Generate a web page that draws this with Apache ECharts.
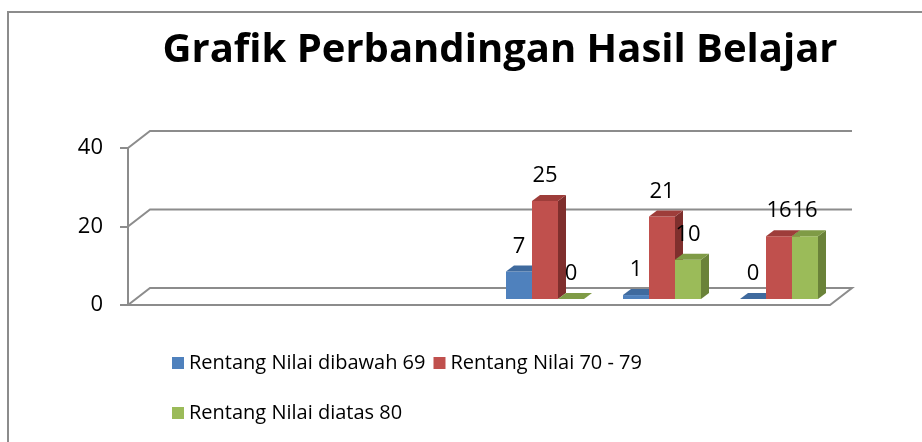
<!DOCTYPE html>
<html>
<head>
<meta charset="utf-8">
<script src="https://cdn.jsdelivr.net/npm/echarts@6/dist/echarts.min.js"></script>
<style>
  html, body { margin: 0; padding: 0; background: #fff; }
  #chart { width: 922px; height: 442px; }
</style>
</head>
<body>
<div id="chart"></div>
<script>
// data
var categories = ['1', '2', '3', '4', '5', '6'];
var seriesNames = ['Rentang Nilai dibawah 69', 'Rentang Nilai 70 - 79', 'Rentang Nilai diatas 80'];
var below69 = [null, null, null, 7, 1, 0];
var range70to79 = [null, null, null, 25, 21, 16];
var above80 = [null, null, null, 0, 10, 16];
var yTicks = [0, 20, 40];

var values = [below69, range70to79, above80];
var palette = [
  { front: '#4F81BD', top: '#3F6A9E', side: '#375C8A' },
  { front: '#C0504D', top: '#9E3D3A', side: '#7F2F2D' },
  { front: '#9BBB59', top: '#7F9B46', side: '#6A8239' }
];
var FONT = '"Open Sans", "Liberation Sans", sans-serif';
var WALL_DX = 22, WALL_DY = 17;   // depth of back wall
var BAR_DX = 8, BAR_DY = 6;       // depth of each bar
var SHIFT_X = 7.5, SHIFT_Y = 6;   // bars sit a bit into the floor
var BAR_W = 26;

function frameItem(params, api) {
  var cs = params.coordSys;
  var x0 = cs.x, x1 = cs.x + cs.width;
  var y = api.coord([0, api.value(1)])[1];
  var line = { stroke: '#8c8c8c', lineWidth: 2, fill: null };
  var pts = [[x0, y], [x0 + WALL_DX, y - WALL_DY], [x1 + WALL_DX, y - WALL_DY]];
  if (api.value(1) === 0) {
    pts.push([x1, y], [x0, y]);
  }
  return { type: 'polyline', shape: { points: pts }, style: line, z2: 0 };
}

function barItem(s) {
  return function (params, api) {
    var c = api.value(0), v = api.value(1);
    var base = api.coord([c, 0]);
    var top = api.coord([c, v]);
    var x = base[0] - BAR_W * 1.5 + s * BAR_W + SHIFT_X;
    var yb = base[1] - SHIFT_Y;
    var yt = top[1] - SHIFT_Y;
    var col = palette[s];
    return {
      type: 'group',
      children: [
        { type: 'rect', shape: { x: x, y: yt, width: BAR_W, height: yb - yt }, style: { fill: col.front } },
        { type: 'polygon', shape: { points: [[x + BAR_W, yt], [x + BAR_W + BAR_DX, yt - BAR_DY], [x + BAR_W + BAR_DX, yb - BAR_DY], [x + BAR_W, yb]] }, style: { fill: col.side } },
        { type: 'polygon', shape: { points: [[x, yt], [x + BAR_W, yt], [x + BAR_W + BAR_DX, yt - BAR_DY], [x + BAR_DX, yt - BAR_DY]] }, style: { fill: col.top } },
        { type: 'text', z2: 10, style: { text: String(v), x: x + BAR_W / 2, y: yt - 25, align: 'center', verticalAlign: 'middle', textAlign: 'center', textVerticalAlign: 'middle', fontSize: 22, fontFamily: FONT, fill: '#000' } }
      ]
    };
  };
}

var series = [{
  type: 'custom',
  name: 'frame',
  renderItem: frameItem,
  data: yTicks.map(function (t) { return [0, t]; }),
  silent: true,
  z: 1
}];
values.forEach(function (arr, s) {
  var data = [];
  arr.forEach(function (v, i) { if (v !== null) data.push([i, v]); });
  series.push({
    type: 'custom',
    name: seriesNames[s],
    renderItem: barItem(s),
    itemStyle: { color: palette[s].front },
    data: data,
    z: 2
  });
});

var chart = echarts.init(document.getElementById('chart'));
chart.setOption({
  animation: false,
  backgroundColor: '#fff',
  title: {
    text: 'Grafik Perbandingan Hasil Belajar',
    left: 495,
    textAlign: 'center',
    top: 26,
    textStyle: { fontFamily: FONT, fontWeight: 'bold', fontSize: 40, color: '#000' }
  },
  legend: [{
    data: seriesNames.slice(0, 2),
    left: 172, top: 353, padding: 0,
    itemWidth: 12, itemHeight: 12, itemGap: 8,
    icon: 'rect',
    textStyle: { fontFamily: FONT, fontSize: 20, color: '#000' }
  }, {
    data: seriesNames.slice(2),
    left: 172, top: 403, padding: 0,
    itemWidth: 12, itemHeight: 12,
    icon: 'rect',
    textStyle: { fontFamily: FONT, fontSize: 20, color: '#000' }
  }],
  grid: { left: 128, right: 92, top: 148, bottom: 137 },
  xAxis: {
    type: 'category',
    data: categories,
    axisLine: { show: false },
    axisTick: { show: false },
    axisLabel: { show: false }
  },
  yAxis: {
    type: 'value',
    min: 0, max: 40, interval: 20,
    axisLine: { show: true, lineStyle: { color: '#8c8c8c', width: 2 } },
    axisTick: { show: true, length: 8, lineStyle: { color: '#8c8c8c', width: 2 } },
    splitLine: { show: false },
    axisLabel: { margin: 25, fontFamily: FONT, fontSize: 22, color: '#000' }
  },
  graphic: [{
    type: 'polyline',
    shape: { points: [[8, 442], [8, 12], [922, 12]] },
    style: { stroke: '#8c8c8c', lineWidth: 2, fill: null },
    silent: true
  }],
  series: series
});
</script>
</body>
</html>
